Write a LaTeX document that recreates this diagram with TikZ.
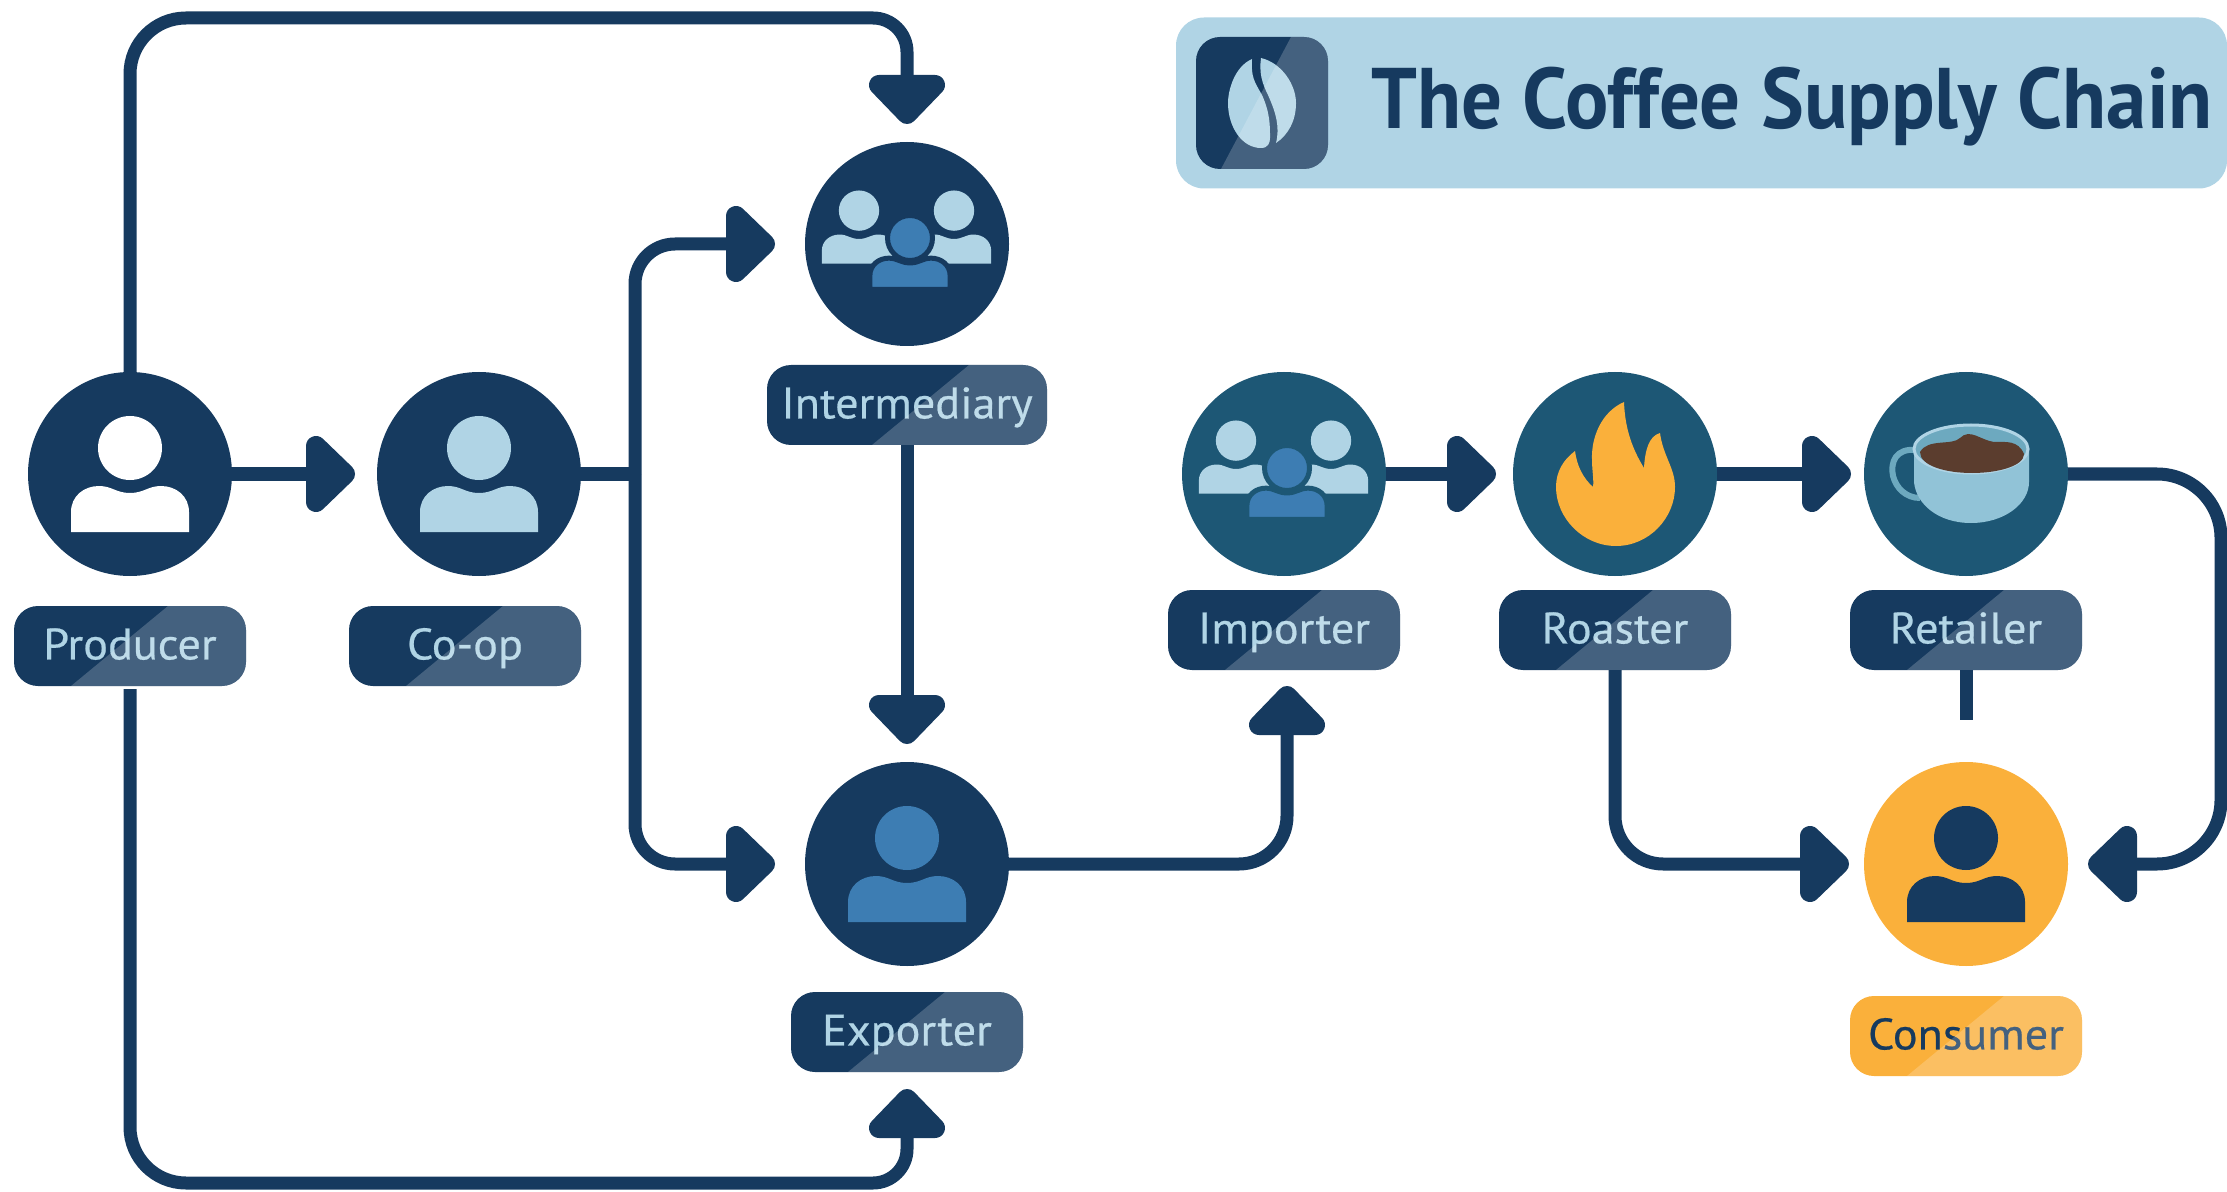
\documentclass[tikz,border=0pt]{standalone}
\usepackage{fontspec}
\setmainfont{PT Sans}
\newfontfamily\titlefont[FakeStretch=.94]{PT Sans Bold}
\newfontfamily\labelfont[FakeStretch=1.05,FakeBold=.5]{PT Sans}
\usetikzlibrary{arrows.meta}

\definecolor{navy}{HTML}{163A5F}
\definecolor{teal}{HTML}{1D5775}
\definecolor{paleblue}{HTML}{B0D4E5}
\definecolor{midblue}{HTML}{3D7DB3}
\definecolor{amber}{HTML}{FAB03B}
\definecolor{coffee}{HTML}{5B3D2E}
\definecolor{cupblue}{HTML}{91C3D7}
\definecolor{rimblue}{HTML}{6DA9BF}

% rounded arrow head
\pgfdeclarearrow{
  name=RoundHead,
  setup code={
    \pgfarrowssettipend{24.5pt}
    \pgfarrowssetlineend{8pt}
    \pgfarrowssetvisualbackend{8pt}
    \pgfarrowssetbackend{0pt}
  },
  drawing code={
    \pgfsetdash{}{0pt}
    \pgfsetroundjoin
    \pgfsetlinewidth{10pt}
    \pgfpathmoveto{\pgfpoint{5pt}{14pt}}
    \pgfpathlineto{\pgfpoint{19.5pt}{0pt}}
    \pgfpathlineto{\pgfpoint{5pt}{-14pt}}
    \pgfpathclose
    \pgfusepathqfillstroke
  }
}

\tikzset{
  station/.style={circle, fill=#1, minimum size=102pt, inner sep=0, outer sep=0},
  tag/.style={rounded corners=12pt, fill=#1, minimum width=116pt, minimum height=40pt,
    inner sep=0, outer sep=0, text height=13.4pt, text depth=0pt,
    font=\labelfont\fontsize{22}{22}\selectfont},
  flow/.style={draw=navy, line width=6.5pt, -{RoundHead}},
  plainflow/.style={draw=navy, line width=6.5pt},
  sheen/.style={fill=white, fill opacity=0.2}
}

\newcommand{\shoulderpath}{(-59,58) -- (-59,38) .. controls (-59,22) and (-46,12) .. (-31,12)
  .. controls (-18,12) and (-14,19) .. (0,19) .. controls (14,19) and (18,12) .. (31,12)
  .. controls (46,12) and (59,22) .. (59,38) -- (59,58) -- cycle}
% one person, head above shoulders
\newcommand{\personicon}[3]{
  \begin{scope}[shift={(#1)}, scale=#2]
    \fill[#3] (0,-26) circle (32);
    \fill[#3] \shoulderpath;
  \end{scope}
}
% three people, the middle one in front
\newcommand{\groupicon}[2]{
  \begin{scope}[shift={(#1)}]
    \personicon{-48,-17}{.63}{paleblue}
    \personicon{47,-17}{.63}{paleblue}
    \begin{scope}[shift={(3,6)}, scale=.68]
      \filldraw[fill=midblue, draw=#2, line width=2.5pt] \shoulderpath;
    \end{scope}
    \filldraw[fill=midblue, draw=#2, line width=2.5pt] (3,-6) circle (22.5);
  \end{scope}
}
% lighter right part of a label
\newcommand{\tagsheen}[1]{
  \fill[sheen] ([xshift=-87.5pt]#1.south east) -- ([xshift=-39pt]#1.north east)
    [rounded corners=12pt] -- (#1.north east) -- (#1.south east)
    [sharp corners] -- cycle;
}

\begin{document}
\begin{tikzpicture}[x=.5pt, y=-.5pt]
  \useasboundingbox (0,0) rectangle (2227,1192);

  % Title
  \node[fill=paleblue, rounded corners=14pt, minimum width=525.5pt, minimum height=85.5pt,
    inner sep=0, outer sep=0] (TitleBar) at (1701.5,103) {};
  \node[fill=navy, rounded corners=12pt, minimum size=66pt, inner sep=0, outer sep=0]
    (BeanBox) at (1262,103) {};
  \begin{scope}[shift={(BeanBox)}]
    \fill[paleblue] (-10,-44) .. controls (-28,-36) and (-34,-12) .. (-34,0)
      .. controls (-34,24) and (-20,45) .. (-1,45) .. controls (6,45) and (8,40) .. (8,35)
      .. controls (8,22) and (8,10) .. (0,-8) .. controls (-8,-22) and (-11,-26) .. (-10,-44);
    \fill[paleblue] (-1,-45) .. controls (20,-40) and (34,-18) .. (34,0)
      .. controls (34,18) and (26,32) .. (14,40) .. controls (18,24) and (14,10) .. (6,-8)
      .. controls (0,-20) and (-3,-30) .. (-1,-45);
  \end{scope}
  \fill[sheen, rounded corners=12pt] (1221,169) [sharp corners] -- (1291,37)
    [rounded corners=12pt] -- (BeanBox.north east) -- (BeanBox.south east) [sharp corners] -- cycle;
  \node[anchor=base west, inner sep=0, text=navy, font=\titlefont\fontsize{43}{43}\selectfont]
    (Title) at (1371,129) {The Coffee Supply Chain};

  % Stations
  \node[station=navy] (Producer) at (130,474) {};
  \node[station=navy] (Coop) at (479,474) {};
  \node[station=navy] (Intermediary) at (907,244) {};
  \node[station=navy] (Exporter) at (907,864) {};
  \node[station=teal] (Importer) at (1284,474) {};
  \node[station=teal] (Roaster) at (1615,474) {};
  \node[station=teal] (Retailer) at (1966,474) {};
  \node[station=amber] (Consumer) at (1966,864) {};

  % Labels
  \node[tag=navy, text=paleblue] (ProducerTag) at (130,646) {Producer};
  \node[tag=navy, text=paleblue] (CoopTag) at (465,646) {Co-op};
  \node[tag=navy, text=paleblue, minimum width=140pt] (IntermediaryTag) at (907,405) {Intermediary};
  \node[tag=navy, text=paleblue] (ExporterTag) at (907,1032) {Exporter};
  \node[tag=navy, text=paleblue] (ImporterTag) at (1284,630) {Importer};
  \node[tag=navy, text=paleblue] (RoasterTag) at (1615,630) {Roaster};
  \node[tag=navy, text=paleblue] (RetailerTag) at (1966,630) {Retailer};
  \node[tag=amber, text=navy] (ConsumerTag) at (1966,1036) {Consumer};
  \foreach \name in {ProducerTag,CoopTag,IntermediaryTag,ExporterTag,ImporterTag,RoasterTag,RetailerTag,ConsumerTag}
    {\tagsheen{\name}}

  % Icons
  \personicon{Producer}{1}{white}
  \personicon{Coop}{1}{paleblue}
  \personicon{Exporter}{1}{midblue}
  \personicon{Consumer}{1}{navy}
  \groupicon{Intermediary}{navy}
  \groupicon{Importer}{teal}

  % Flame
  \begin{scope}[shift={(Roaster)}]
    \fill[amber] (9,-72) .. controls (-14,-62) and (-24,-36) .. (-23,-14)
      .. controls (-23,-4) and (-21,6) .. (-22,13) .. controls (-32,4) and (-38,-8) .. (-40,-23)
      .. controls (-52,-14) and (-59,-2) .. (-59,13) .. controls (-59,44) and (-32,72) .. (1,72)
      .. controls (34,72) and (60,44) .. (60,13) .. controls (60,-6) and (48,-18) .. (45,-41)
      .. controls (34,-38) and (30,-24) .. (29,-6) .. controls (18,-24) and (10,-44) .. (9,-72);
  \end{scope}

  % Cup
  \begin{scope}[shift={(Retailer)}]
    \draw[rimblue, line width=3pt] (-50,-24) .. controls (-70,-26) and (-76,-12) .. (-73,2)
      .. controls (-70,14) and (-60,24) .. (-46,24);
    \fill[cupblue] (-52,-25) -- (-52,8) .. controls (-50,30) and (-28,49) .. (5,49)
      .. controls (38,49) and (63,30) .. (63,8) -- (63,-25) -- cycle;
    \filldraw[fill=rimblue, draw=paleblue, line width=1.5pt] (5,-25) ellipse (57 and 24);
    \fill[coffee] (-46,-22) .. controls (-38,-36) and (-14,-28) .. (-6,-36)
      .. controls (4,-46) and (14,-34) .. (28,-32) .. controls (40,-32) and (52,-34) .. (58,-20)
      .. controls (58,-8) and (32,-1) .. (6,-1) .. controls (-20,-1) and (-46,-8) .. (-46,-22);
  \end{scope}

  % Free corners and ends
  \coordinate (TopLeft) at (130,18);
  \coordinate (TopRight) at (907,18);
  \coordinate (BottomLeft) at (130,1183);
  \coordinate (BottomRight) at (907,1183);
  \coordinate (Split) at (635,474);
  \coordinate (RightEdge) at (2221,474);
  \coordinate (RightTurn) at (2221,864);
  \coordinate (RetailerEnd) at (1966,720);

  % Draw Arrows
  \draw[flow, shorten >=11pt] (Producer) -- (Coop);
  \draw[flow, shorten >=9pt, rounded corners=28pt] (Producer.north) -- (TopLeft)
    [rounded corners=17pt] -- (TopRight) -- (Intermediary.north);
  \draw[flow, shorten >=8.5pt, shorten <=1.5pt, rounded corners=28pt] (ProducerTag.south) -- (BottomLeft)
    [rounded corners=17pt] -- (BottomRight) -- (ExporterTag.south);
  \draw[plainflow] (Coop) -- (Split);
  \draw[flow, shorten >=15pt, rounded corners=20pt] (Split) |- (Intermediary.west);
  \draw[flow, shorten >=15pt, rounded corners=20pt] (Split) |- (Exporter.west);
  \draw[flow, shorten >=9pt] (IntermediaryTag.south) -- (Exporter.north);
  \draw[flow, shorten >=8pt, rounded corners=24pt] (Exporter.east) -| ([xshift=1.5pt]ImporterTag.south);
  \draw[flow, shorten >=8.5pt] (Importer) -- (Roaster);
  \draw[flow, shorten >=6.5pt] (Roaster) -- (Retailer);
  \draw[flow, shorten >=7.5pt, rounded corners=24pt] (RoasterTag.south) |- (Consumer.west);
  \draw[flow, shorten >=10pt, rounded corners=32pt] (Retailer.east) -- (RightEdge) -- (RightTurn) -- (Consumer.east);
  \draw[plainflow] (RetailerTag.south) -- (RetailerEnd);
\end{tikzpicture}
\end{document}
